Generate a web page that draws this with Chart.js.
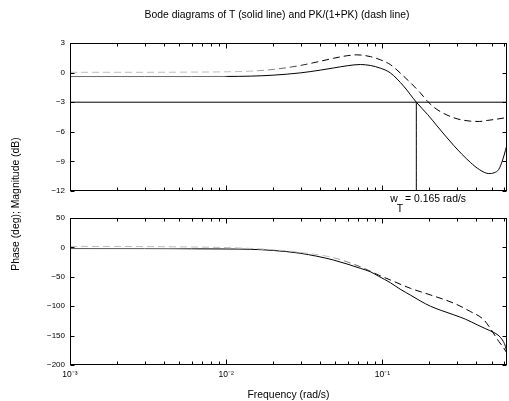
<!DOCTYPE html>
<html><head><meta charset="utf-8">
<script src="https://cdn.jsdelivr.net/npm/chart.js@4/dist/chart.umd.min.js"></script>
<style>
html,body{margin:0;padding:0;background:#fff;}
#wrap{position:relative;width:509px;height:401px;overflow:hidden;}
canvas{position:absolute;left:0;top:0;}
</style></head><body>
<div id="wrap"><canvas id="c1" width="509" height="401"></canvas><canvas id="c2" width="509" height="401"></canvas></div>
<script>
// ---- data ----
const magFreqT = [0.001,0.003,0.006,0.01,0.0143,0.02,0.0298,0.04,0.0487,0.06,0.0723,0.0838,0.0971,0.1125,0.137,0.165,0.195,0.224,0.287,0.366,0.42,0.48,0.52,0.557,0.585,0.6,0.6283];
const magT     = [-0.40,-0.40,-0.40,-0.39,-0.36,-0.26,-0.03,0.25,0.47,0.70,0.82,0.72,0.45,-0.03,-1.38,-3.0,-4.25,-5.4,-7.4,-9.1,-9.85,-10.23,-10.15,-9.8,-9.0,-8.45,-7.3];
const magFreqPK = [0.001,0.003,0.006,0.01,0.0143,0.02,0.0298,0.04,0.0487,0.06,0.0687,0.0838,0.0971,0.1125,0.137,0.175,0.196,0.224,0.287,0.366,0.42,0.469,0.55,0.6283];
const magPK     = [0.03,0.03,0.05,0.08,0.15,0.32,0.72,1.15,1.45,1.72,1.80,1.62,1.30,0.81,-0.37,-2.05,-2.96,-3.74,-4.58,-4.92,-4.95,-4.85,-4.7,-4.55];
const phFreqT = [0.001,0.003,0.006,0.01,0.0143,0.02,0.0298,0.0487,0.0723,0.0838,0.0946,0.1125,0.13,0.151,0.175,0.203,0.24,0.287,0.34,0.405,0.46,0.517,0.55,0.57,0.595,0.614,0.6283];
const phaseT  = [-2.0,-2.1,-2.4,-2.7,-3.2,-5.2,-10,-21.5,-35.6,-41.4,-49,-60,-71,-81,-91,-100,-107.5,-114.7,-122,-131.7,-138.5,-144.7,-149,-153,-160,-168.5,-180];
const phFreqPK = [0.001,0.003,0.006,0.01,0.0143,0.02,0.0298,0.0487,0.0723,0.0838,0.0946,0.1125,0.151,0.203,0.287,0.366,0.446,0.492,0.557,0.595,0.6283];
const phasePK  = [1.7,1.4,0.7,-0.3,-1.8,-4,-8.5,-17.5,-33,-40.5,-47,-55.4,-69.5,-80.8,-94.9,-109,-123,-138,-160,-170,-180];
const magTicks = [3,0,-3,-6,-9,-12];
const phaseTicks = [50,0,-50,-100,-150,-200];
const decadeTicks = [0.001,0.01,0.1];
const decadeLabels = ['10\u207B\u00B3','10\u207B\u00B2','10\u207B\u00B9'];
const bandwidth = 0.165;
const cutoffDb = -3;
const wMin = 0.001, wMax = 0.6283;
const titleText = 'Bode diagrams of T (solid line) and PK/(1+PK) (dash line)';
const yLabelText = 'Phase (deg); Magnitude (dB)';
const xLabelText = 'Frequency (rad/s)';

const FONT = "'Liberation Sans', Arial, Helvetica, sans-serif";
const pts = (xs, ys) => xs.map((x, i) => ({x, y: ys[i]}));
const minusFmt = v => String(v).replace('-', '\u2212');

const frameTicks = {
  id: 'frameTicks',
  afterDraw(chart) {
    const {ctx, chartArea: a, scales: {x, y}} = chart;
    const L = Math.round(a.left) + 0.5, R = Math.round(a.right) - 0.5;
    const T = Math.round(a.top) + 0.5, B = Math.round(a.bottom) - 0.5;
    ctx.save();
    ctx.strokeStyle = '#000'; ctx.lineWidth = 1;
    ctx.strokeRect(L, T, R - L, B - T);
    ctx.beginPath();
    for (let d = -3; d <= -1; d++) {
      for (let m = 1; m <= 9; m++) {
        const v = m * Math.pow(10, d);
        if (v > wMax) continue;
        const px = Math.round(x.getPixelForValue(v)) + 0.5;
        const len = m === 1 ? 5 : 3;
        ctx.moveTo(px, B); ctx.lineTo(px, B - len);
        ctx.moveTo(px, T); ctx.lineTo(px, T + len);
      }
    }
    y.ticks.forEach(t => {
      const py = Math.round(y.getPixelForValue(t.value)) + 0.5;
      ctx.moveTo(L, py); ctx.lineTo(L + 4, py);
      ctx.moveTo(R, py); ctx.lineTo(R - 4, py);
    });
    ctx.stroke();
    ctx.restore();
  }
};

const topTexts = {
  id: 'topTexts',
  afterDraw(chart) {
    const {ctx, scales: {x}} = chart;
    ctx.save();
    ctx.fillStyle = '#000';
    ctx.font = '10.4px ' + FONT;
    ctx.textAlign = 'center'; ctx.textBaseline = 'alphabetic';
    ctx.fillText(titleText, 277, 18);
    // annotation w_T = 0.165 rad/s below the bandwidth line
    const x0 = x.getPixelForValue(bandwidth) - 26;
    ctx.textAlign = 'left';
    ctx.fillText('w', x0, 202);
    const ww = ctx.measureText('w').width;
    ctx.fillText('T', x0 + ww - 1, 212);
    const tw = ctx.measureText('T').width;
    ctx.fillText(' = ' + bandwidth + ' rad/s', x0 + ww + tw - 2, 202);
    ctx.restore();
  }
};

const bottomTexts = {
  id: 'bottomTexts',
  afterDraw(chart) {
    const {ctx} = chart;
    ctx.save();
    ctx.fillStyle = '#000';
    ctx.font = '10.4px ' + FONT;
    ctx.textAlign = 'center'; ctx.textBaseline = 'middle';
    ctx.translate(16, 204);
    ctx.rotate(-Math.PI / 2);
    ctx.fillText(yLabelText, 0, 0);
    ctx.restore();
  }
};

// horizontal grey-to-black stroke, like the reference's rendering of flat line parts
function fade(light, x1, x2) {
  return (c) => {
    const ch = c.chart;
    if (!ch.chartArea) return '#000';
    const g = ch.ctx.createLinearGradient(0, 0, ch.width, 0);
    g.addColorStop(0, light);
    g.addColorStop(x1 / ch.width, light);
    g.addColorStop(x2 / ch.width, '#000');
    g.addColorStop(1, '#000');
    return g;
  };
}

function xScale(showLabels) {
  return {
    type: 'logarithmic', min: wMin, max: wMax,
    grid: {display: false, drawTicks: false}, border: {display: false},
    afterBuildTicks: s => { s.ticks = decadeTicks.map(v => ({value: v})); },
    ticks: {
      display: showLabels, autoSkip: false, maxRotation: 0, padding: 5,
      color: '#000', font: {family: FONT, size: 8.5},
      callback: (v) => { const i = decadeTicks.indexOf(v); return i >= 0 ? decadeLabels[i] : ''; }
    },
    title: {display: showLabels, text: xLabelText, color: '#000', font: {family: FONT, size: 10.4}, padding: {top: 0, bottom: 0}},
    afterFit: s => { s.height = showLabels ? 36 : 0; }
  };
}
function yScale(min, max, ticks) {
  return {
    min, max,
    grid: {display: false, drawTicks: false}, border: {display: false},
    afterBuildTicks: s => { s.ticks = ticks.map(v => ({value: v})); },
    ticks: {padding: 5, color: '#000', font: {family: FONT, size: 8}, callback: v => minusFmt(v)},
    afterFit: s => { s.width = 70; }
  };
}
const solid = (data, color) => ({data, borderColor: color || '#000', borderWidth: 1, pointRadius: 0, cubicInterpolationMode: 'monotone', fill: false});
const dashed = (data, color) => ({data, borderColor: color || '#000', borderWidth: 1, borderDash: [7, 4], pointRadius: 0, cubicInterpolationMode: 'monotone', fill: false});
const common = {
  responsive: false, devicePixelRatio: 1, animation: false, events: [],
  plugins: {legend: {display: false}, tooltip: {enabled: false}, title: {display: false}},
};

new Chart(document.getElementById('c1'), {
  type: 'line',
  data: {datasets: [
    solid(pts([wMin, wMax], [cutoffDb, cutoffDb])),
    solid(pts([bandwidth, bandwidth], [-12, cutoffDb])),
    dashed(pts(magFreqPK, magPK), fade('#bdbdbd', 250, 320)),
    solid(pts(magFreqT, magT), fade('#6a6a6a', 224, 228))
  ]},
  options: Object.assign({}, common, {
    layout: {padding: {top: 43, bottom: 210, left: 0, right: 2}},
    scales: {x: xScale(false), y: yScale(-12, 3, magTicks)}
  }),
  plugins: [frameTicks, topTexts]
});

new Chart(document.getElementById('c2'), {
  type: 'line',
  data: {datasets: [
    dashed(pts(phFreqPK, phasePK), fade('#bdbdbd', 330, 385)),
    solid(pts(phFreqT, phaseT), fade('#555555', 170, 200))
  ]},
  options: Object.assign({}, common, {
    layout: {padding: {top: 218, bottom: 0, left: 0, right: 2}},
    scales: {x: xScale(true), y: yScale(-200, 50, phaseTicks)}
  }),
  plugins: [frameTicks, bottomTexts]
});
</script>
</body></html>
